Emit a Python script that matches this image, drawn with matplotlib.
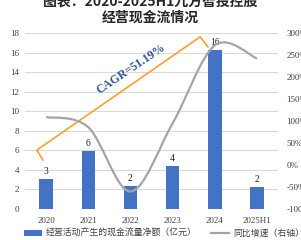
import matplotlib
matplotlib.use("Agg")
import matplotlib.pyplot as plt
from matplotlib.path import Path
from matplotlib.patches import PathPatch, Patch
from matplotlib.lines import Line2D
import numpy as np

plt.rcParams['font.family'] = ['Liberation Serif', 'Noto Sans CJK SC', 'DejaVu Sans']

categories = ["2020", "2021", "2022", "2023", "2024", "2025H1"]
cash_flow = [3.07, 5.93, 2.35, 4.40, 16.26, 2.25]
cash_labels = ["3", "6", "2", "4", "16", "2"]
yoy_growth = [109, 86, -60, 95, 272, 242]
left_ticks = list(range(0, 19, 2))
right_ticks = list(range(-100, 301, 50))
title_lines = ["图表：2020-2025H1九方智投控股", "经营现金流情况"]
legend_labels = ["经营活动产生的现金流量净额（亿元）", "同比增速（右轴）"]
cagr_text = "CAGR=51.19%"

BLUE = "#4472C4"
GRAY = "#A5A5A5"
ORANGE = "#FF9F2E"
GRID = "#D9D9D9"
TXT = "#404040"

fig = plt.figure(figsize=(3.01, 2.40), dpi=100)
ax = fig.add_axes([0.083, 0.129, 0.841, 0.7335])
ax2 = ax.twinx()

x = np.arange(len(categories))
bars = ax.bar(x, cash_flow, width=0.32, color=BLUE, zorder=2)
for xi, v, lab in zip(x, cash_flow, cash_labels):
    ax.annotate(lab, (xi, v), xytext=(0, 2.5), textcoords="offset points",
                ha="center", va="bottom", fontsize=7, color="#262626")

ax.set_xlim(-0.5, len(categories) - 0.5)
ax.set_ylim(0, 18)
ax.set_yticks(left_ticks)
ax.set_yticklabels([str(t) for t in left_ticks])
ax.set_xticks(x)
ax.set_xticklabels(categories)
ax.grid(axis="y", color=GRID, linewidth=0.8, zorder=0)
ax.set_axisbelow(True)
for s in ax.spines.values():
    s.set_visible(False)
for s in ax2.spines.values():
    s.set_visible(False)
ax.tick_params(axis="both", length=0, labelsize=6.5, colors=TXT)
ax.tick_params(axis="y", pad=4)
ax.tick_params(axis="x", pad=6)

ax2.set_ylim(-100, 300)
ax2.set_yticks(right_ticks)
ax2.set_yticklabels([f"{t}%" for t in right_ticks])
ax2.tick_params(axis="y", length=0, labelsize=6.5, colors=TXT, pad=6)

# smooth line (Catmull-Rom via cubic Bezier segments)
pts = np.column_stack([x, yoy_growth]).astype(float)
verts = [tuple(pts[0])]
codes = [Path.MOVETO]
n = len(pts)
for i in range(n - 1):
    p0 = pts[i - 1] if i > 0 else pts[i]
    p1 = pts[i]
    p2 = pts[i + 1]
    p3 = pts[i + 2] if i + 2 < n else pts[i + 1]
    c1 = p1 + (p2 - p0) / 6.0
    c2 = p2 - (p3 - p1) / 6.0
    verts += [tuple(c1), tuple(c2), tuple(p2)]
    codes += [Path.CURVE4] * 3
ax2.add_patch(PathPatch(Path(verts, codes), facecolor="none", edgecolor=GRAY,
                        linewidth=1.6, zorder=3))

# CAGR bracket annotation (axes fraction coordinates)
bx = [0.071, 0.047, 0.692, 0.723]
by = [0.278, 0.335, 0.978, 0.921]
ax.plot(bx, by, color=ORANGE, linewidth=1.2, transform=ax.transAxes,
        clip_on=False, zorder=4)
ax.text(0.418, 0.795, cagr_text, transform=ax.transAxes, rotation=34,
        ha="center", va="center", fontsize=8.6, fontweight="bold",
        color="#2F5597", zorder=5)

# title (top line partially cut off like the reference)
fig.text(0.5, 0.995, title_lines[0], ha="center", va="center", fontsize=10,
         fontweight="bold", color="#262626",
         family=['Noto Sans CJK SC', 'Liberation Serif'])
fig.text(0.5, 0.925, title_lines[1], ha="center", va="center", fontsize=10,
         fontweight="bold", color="#262626",
         family=['Noto Sans CJK SC', 'Liberation Serif'])

handles = [Patch(facecolor=BLUE, edgecolor="none"),
           Line2D([0], [0], color=GRAY, linewidth=1.6)]
leg = fig.legend(handles, legend_labels, loc="center", bbox_to_anchor=(0.545, 0.028),
                 ncol=2, frameon=False, handlelength=2.0,
                 handleheight=0.6, columnspacing=1.6, handletextpad=0.5,
                 prop={'family': ['Noto Sans CJK SC'], 'size': 6.4})
for t in leg.get_texts():
    t.set_color(TXT)

fig.savefig("out.png", dpi=100)
